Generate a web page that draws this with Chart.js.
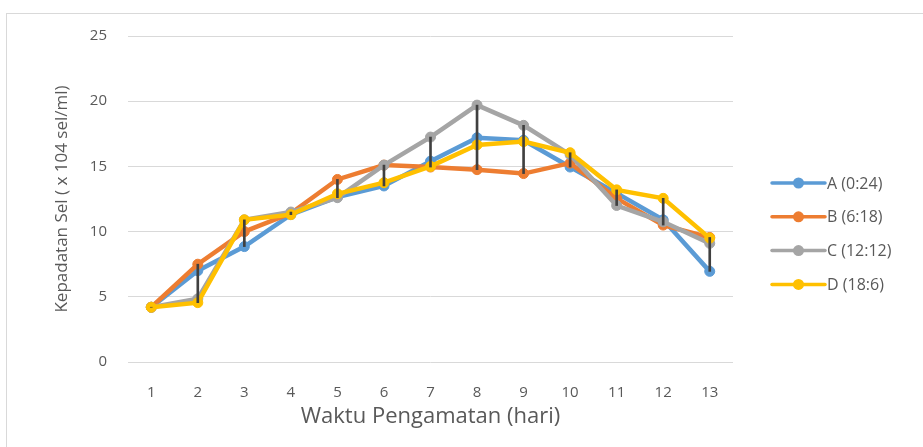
<!DOCTYPE html>
<html>
<head>
<meta charset="utf-8">
<script src="https://cdn.jsdelivr.net/npm/chart.js@4"></script>
<style>
  html, body { margin: 0; padding: 0; background: #fff; overflow: hidden; }
  #frame { position: absolute; left: 6px; top: 13px; width: 1000px; height: 1000px; border: 1px solid #d9d9d9; }
  #chart { position: absolute; left: 0; top: 0; }
</style>
</head>
<body>
<div id="frame"></div>
<canvas id="chart" width="923" height="447"></canvas>
<script>
/* --------------- Data --------------------- */
const days = ["1", "2", "3", "4", "5", "6", "7", "8", "9", "10", "11", "12", "13"];
const seriesNames = ["A (0:24)", "B (6:18)", "C (12:12)", "D (18:6)"];
const serA = [4.2, 7.0, 8.85, 11.3, 12.65, 13.5, 15.4, 17.2, 17.0, 14.95, 12.95, 10.9, 6.95];
const serB = [4.2, 7.5, 10.0, 11.4, 14.0, 15.1, 14.95, 14.75, 14.45, 15.25, 12.55, 10.5, 9.55];
const serC = [4.2, 4.85, 10.9, 11.5, 12.6, 15.1, 17.25, 19.7, 18.15, 15.9, 12.0, 10.75, 9.1];
const serD = [4.2, 4.55, 10.9, 11.3, 12.9, 13.75, 15.0, 16.65, 16.9, 16.05, 13.2, 12.55, 9.5];
const colors = ["#5b9bd5", "#ed7d31", "#a5a5a5", "#ffc000"];

const allSeries = [serA, serB, serC, serD];
// high-low lines: from the lowest to the highest series at each day
const highLow = days.map((_, i) => {
  const vals = allSeries.map(s => s[i]);
  return [Math.min(...vals), Math.max(...vals)];
});

const fontFam = "'Open Sans', sans-serif";
const txtColor = "#595959";

function lineSet(idx) {
  return {
    type: "line",
    label: seriesNames[idx],
    data: allSeries[idx],
    borderColor: colors[idx],
    backgroundColor: colors[idx],
    pointBackgroundColor: colors[idx],
    pointBorderColor: colors[idx],
    borderWidth: 4.5,
    pointRadius: 5,
    pointBorderWidth: 1,
    tension: 0,
    order: 4 - idx,
  };
}

/* --------------- Legend drawn on the right --------------------- */
const sideLegend = {
  id: "sideLegend",
  afterDraw(chart) {
    const ctx = chart.ctx;
    const x0 = 772, x1 = 825, top = 183, gap = 33.8;
    ctx.save();
    seriesNames.forEach((name, i) => {
      const y = top + i * gap;
      ctx.strokeStyle = colors[i];
      ctx.lineWidth = 3.5;
      ctx.lineCap = "round";
      ctx.beginPath();
      ctx.moveTo(x0, y);
      ctx.lineTo(x1, y);
      ctx.stroke();
      ctx.fillStyle = colors[i];
      ctx.beginPath();
      ctx.arc((x0 + x1) / 2, y, 5.5, 0, Math.PI * 2);
      ctx.fill();
      ctx.fillStyle = txtColor;
      ctx.font = "16px " + fontFam;
      ctx.textBaseline = "middle";
      ctx.textAlign = "left";
      ctx.fillText(name, x1 + 2, y + 1);
    });
    ctx.restore();
  },
};

/* --------------- Chart --------------------- */
new Chart(document.getElementById("chart"), {
  type: "line",
  data: {
    labels: days,
    datasets: [
      lineSet(0),
      lineSet(1),
      lineSet(2),
      lineSet(3),
      {
        type: "bar",
        label: "high-low",
        data: highLow,
        backgroundColor: "#404040",
        borderWidth: 0,
        barThickness: 2,
        order: 0,
      },
    ],
  },
  plugins: [sideLegend],
  options: {
    responsive: false,
    animation: false,
    layout: { padding: { left: 48, right: 190, top: 36, bottom: 13 } },
    plugins: {
      legend: { display: false },
      tooltip: { enabled: false },
    },
    scales: {
      x: {
        offset: true,
        grid: { display: false },
        border: { display: false },
        ticks: { color: txtColor, font: { family: fontFam, size: 15 }, padding: 14 },
        title: {
          display: true,
          text: "Waktu Pengamatan (hari)",
          color: txtColor,
          font: { family: fontFam, size: 22 },
        },
        afterFit(scale) { scale.height = 72; },
      },
      y: {
        min: 0,
        max: 25,
        ticks: { stepSize: 5, color: txtColor, font: { family: fontFam, size: 15 }, padding: 21 },
        grid: { color: "#d9d9d9", lineWidth: 1, drawTicks: false },
        border: { display: false },
        title: {
          display: true,
          text: "Kepadatan Sel ( x 104 sel/ml)",
          color: txtColor,
          font: { family: fontFam, size: 17 },
        },
        afterFit(scale) { scale.width = 80; },
      },
    },
  },
});
</script>
</body>
</html>
